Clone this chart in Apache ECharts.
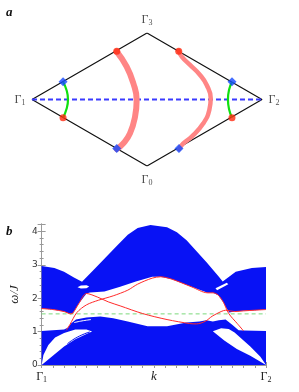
<!DOCTYPE html>
<html><head><meta charset="utf-8">
<script src="https://cdn.jsdelivr.net/npm/echarts@6/dist/echarts.min.js"></script>
<style>html,body{margin:0;padding:0;background:#fff}#c{width:299px;height:392px}</style>
</head><body><div id="c"></div>
<script>
// ---------- Panel a: Brillouin zone (k-space units, Γ1=(-1,0), Γ2=(1,0)) ----------
const zoneEdge = [[-1,0],[0,0.5774],[1,0],[0,-0.5774],[-1,0]];
const gammaVertices = [[-1,0],[0,0.5774],[1,0],[0,-0.5774]];
const gammaIndex = ['1','3','2','0'];
const pathGamma1Gamma2 = [[-1,0],[1,0]];
const pinkArcLeft = [[-0.263,0.416],[-0.177,0.285],[-0.119,0.141],[-0.09,-0.004],[-0.104,-0.15],[-0.148,-0.294],[-0.206,-0.381],[-0.263,-0.43]];
const pinkArcRight = [[0.276,0.422],[0.302,0.372],[0.374,0.3],[0.461,0.213],[0.519,0.126],[0.554,0.01],[0.542,-0.091],[0.49,-0.207],[0.389,-0.323],[0.316,-0.381],[0.278,-0.43]];
const greenArcLeft = [[-0.73,0.154],[-0.7,0.083],[-0.687,0],[-0.7,-0.083],[-0.73,-0.158]];
const greenArcRight = [[0.739,0.154],[0.713,0.083],[0.704,0],[0.713,-0.083],[0.739,-0.158]];
const redDots = [[-0.73,-0.158],[-0.263,0.42],[0.276,0.42],[0.739,-0.158]];
const blueDiamonds = [[-0.73,0.154],[-0.263,-0.425],[0.278,-0.425],[0.739,0.154]];

// ---------- Panel b: spectrum ω/J along Γ1 → Γ2 (t from 0 to 1) ----------
const upperBandTop = [[0,2.96],[0.057,2.9],[0.1,2.79],[0.144,2.62],[0.18,2.49],[0.24,2.9],[0.297,3.3],[0.34,3.6],[0.384,3.9],[0.428,4.1],[0.485,4.19],[0.559,4.12],[0.603,3.97],[0.646,3.73],[0.734,3.08],[0.79,2.64],[0.807,2.5],[0.865,2.79],[0.937,2.9],[1,2.93]];
const upperBandBottom = [[1,1.66],[0.95,1.64],[0.9,1.62],[0.86,1.6],[0.836,1.57],[0.822,1.72],[0.81,1.88],[0.787,2.09],[0.764,2.16],[0.74,2.16],[0.668,2.34],[0.58,2.57],[0.53,2.64],[0.493,2.64],[0.42,2.5],[0.35,2.34],[0.28,2.2],[0.215,2.17],[0.2,2.14],[0.165,1.83],[0.14,1.56],[0.13,1.52],[0.1,1.6],[0.05,1.66],[0,1.69]];
const lowerBandTop = [[1,1.02],[0.9,1.03],[0.878,1.04],[0.852,1.19],[0.82,1.36],[0.79,1.34],[0.763,1.3],[0.734,1.34],[0.703,1.3],[0.646,1.27],[0.559,1.16],[0.472,1.16],[0.384,1.3],[0.319,1.4],[0.262,1.45],[0.2,1.42],[0.153,1.36],[0.131,1.24],[0.118,1.12],[0.1,1.06],[0,1.02]];
const leftGapWedge = [[0,0],[0.008,0.3],[0.03,0.6],[0.06,0.82],[0.1,0.96],[0.15,1.06],[0.2,1.06],[0.225,1.0],[0.2,0.93],[0.15,0.77],[0.1,0.55],[0.05,0.28],[0,0]];
const rightGapWedge = [[0.763,1.01],[0.8,1.1],[0.834,1.08],[0.86,0.97],[0.93,0.55],[0.975,0.25],[1,0],[0.93,0.28],[0.87,0.48],[0.814,0.73],[0.763,1.01]];
const leftHole = [[0.16,2.33],[0.175,2.38],[0.2,2.39],[0.212,2.35],[0.2,2.3],[0.175,2.29]];
const rightSlit = [[0.775,2.3],[0.825,2.46],[0.832,2.42],[0.782,2.24]];
const wedgeInnerLine = [[0.115,0.64],[0.15,0.8],[0.19,0.93],[0.215,0.99]];
const lowerBandSeam = [[0.145,1.27],[0.18,1.32],[0.22,1.36]];
const edgeMode1 = [[0,1.69],[0.05,1.66],[0.1,1.6],[0.13,1.53],[0.14,1.56],[0.165,1.83],[0.2,2.14],[0.25,2.03],[0.297,1.89],[0.35,1.77],[0.45,1.54],[0.559,1.36],[0.66,1.24],[0.69,1.23],[0.73,1.31],[0.76,1.46],[0.8,1.6],[0.82,1.64],[0.86,1.6],[0.9,1.62],[0.95,1.64],[1,1.66]];
const edgeMode2 = [[0.11,1.04],[0.127,1.22],[0.157,1.57],[0.2,1.8],[0.254,1.94],[0.319,2.07],[0.384,2.24],[0.428,2.42],[0.493,2.6],[0.53,2.64],[0.58,2.57],[0.668,2.34],[0.74,2.16],[0.764,2.16],[0.787,2.09],[0.81,1.88],[0.834,1.54],[0.872,1.24],[0.9,1.02]];
const referenceLevel = [[0,1.53],[1,1.53]];
const yTicks = [0,1,2,3,4];
const xLabels = {0:['Γ','1'], 0.5:['k'], 1:['Γ','2']};

const BLUE = 'rgb(8,18,245)';
function poly(points, color, xi, yi, z) {
  return {type:'custom', xAxisIndex:xi, yAxisIndex:yi, z:z, silent:true, data:[[0,0]],
    renderItem:function(p, api){ return {type:'polygon', shape:{points:points.map(q=>api.coord(q))}, style:{fill:color}}; }};
}
function line(data, color, width, xi, yi, z, extra) {
  return Object.assign({type:'line', xAxisIndex:xi, yAxisIndex:yi, z:z, data:data, symbol:'none', silent:true,
    lineStyle:{color:color, width:width}}, extra||{});
}
const serif = 'Liberation Serif';
const gammaRich = {g:{fontFamily:serif, fontSize:12, color:'#222'}, s:{fontFamily:serif, fontSize:8, color:'#222', padding:[6,0,0,0]}};

const chart = echarts.init(document.getElementById('c'), null, {renderer:'canvas'});
chart.setOption({
  animation:false,
  backgroundColor:'#fff',
  graphic:[
    {type:'text', left:6, top:6, style:{text:'a', font:'bold italic 13px "Liberation Serif"', fill:'#111'}},
    {type:'text', left:6, top:225, style:{text:'b', font:'bold italic 13px "Liberation Serif"', fill:'#111'}}
  ],
  grid:[
    {left:32, top:33, width:230, height:133},
    {left:37, top:224, width:229, height:141}
  ],
  xAxis:[
    {gridIndex:0, type:'value', min:-1, max:1, show:false},
    {gridIndex:1, type:'value', min:0, max:1, interval:0.05, position:'bottom',
      axisLine:{lineStyle:{color:'#999'}}, splitLine:{show:false},
      axisTick:{inside:true, length:3, lineStyle:{color:'#999'}},
      axisLabel:{margin:5, interval:0, formatter:function(v){
        if (Math.abs(v)<1e-6) return '{g|'+xLabels[0][0]+'}{s|'+xLabels[0][1]+'}';
        if (Math.abs(v-0.5)<1e-6) return '{k|'+xLabels[0.5][0]+'}';
        if (Math.abs(v-1)<1e-6) return '{g|'+xLabels[1][0]+'}{s|'+xLabels[1][1]+'}';
        return '';
      }, rich:Object.assign({k:{fontFamily:serif, fontStyle:'italic', fontSize:13, color:'#222'}}, gammaRich)}},
    {gridIndex:1, type:'value', min:0, max:1, interval:0.05, position:'top',
      axisLine:{lineStyle:{color:'#999'}}, splitLine:{show:false},
      axisTick:{inside:true, length:3, lineStyle:{color:'#999'}}, axisLabel:{show:false}}
  ],
  yAxis:[
    {gridIndex:0, type:'value', min:-0.5774, max:0.5774, show:false},
    {gridIndex:1, type:'value', min:0, max:4.22, interval:1, position:'left',
      name:'ω/J', nameLocation:'middle', nameGap:19, nameRotate:90,
      nameTextStyle:{fontFamily:serif, fontStyle:'italic', fontSize:13, color:'#222'},
      axisLine:{show:true, lineStyle:{color:'#999'}}, splitLine:{show:false},
      axisTick:{inside:true, length:4, lineStyle:{color:'#999'}},
      minorTick:{show:true, splitNumber:5, length:2, lineStyle:{color:'#999'}},
      axisLabel:{margin:4, fontFamily:'DejaVu Sans', fontSize:9, color:'#333',
        formatter:function(v){ return yTicks.indexOf(v)>=0 ? String(v) : ''; }}},
    {gridIndex:1, type:'value', min:0, max:4.22, interval:1, position:'right',
      axisLine:{show:true, lineStyle:{color:'#999'}}, splitLine:{show:false},
      axisTick:{inside:true, length:4, lineStyle:{color:'#999'}},
      minorTick:{show:true, splitNumber:5, length:2, lineStyle:{color:'#999'}},
      axisLabel:{show:false}}
  ],
  series:[
    // panel a
    line(zoneEdge, '#111', 1.2, 0, 0, 2),
    line(pathGamma1Gamma2, '#3a3aff', 1.8, 0, 0, 3, {lineStyle:{color:'#3a3aff', width:1.8, type:[5,3]}}),
    line(pinkArcLeft, '#ff8585', 6, 0, 0, 4, {smooth:0.5, lineStyle:{color:'#ff8585', width:6, cap:'round'}}),
    line(pinkArcRight, '#ff8585', 4.5, 0, 0, 4, {smooth:0.5, lineStyle:{color:'#ff8585', width:4.5, cap:'round'}}),
    line(greenArcLeft, '#10e010', 2.2, 0, 0, 4, {smooth:0.5}),
    line(greenArcRight, '#10e010', 2.2, 0, 0, 4, {smooth:0.5}),
    {type:'scatter', xAxisIndex:0, yAxisIndex:0, z:6, silent:true, data:redDots, symbol:'circle', symbolSize:7, itemStyle:{color:'#ff2a10'}},
    {type:'scatter', xAxisIndex:0, yAxisIndex:0, z:6, silent:true, data:blueDiamonds, symbol:'diamond', symbolSize:9, itemStyle:{color:'#1448ff'}},
    {type:'scatter', xAxisIndex:0, yAxisIndex:0, z:7, silent:true, symbolSize:1, itemStyle:{color:'rgba(0,0,0,0)'},
      data:gammaVertices.map((v,i)=>({value:v, label:{show:true, position:['left','top','right','bottom'][i], distance:6,
        formatter:'{g|Γ}{s|'+gammaIndex[i]+'}', rich:gammaRich}}))},
    // panel b
    poly(lowerBandTop.concat([[0,0],[1,0]]), BLUE, 1, 1, 1),
    poly(upperBandTop.concat(upperBandBottom), BLUE, 1, 1, 1),
    poly(leftGapWedge, '#fff', 1, 1, 2),
    poly(rightGapWedge, '#fff', 1, 1, 2),
    poly(leftHole, '#fff', 1, 1, 2),
    poly(rightSlit, '#fff', 1, 1, 2),
    line(wedgeInnerLine, BLUE, 1, 1, 1, 3, {smooth:0.4}),
    line(lowerBandSeam, '#fff', 1, 1, 1, 3, {smooth:0.4}),
    line(referenceLevel, '#7ad87a', 1, 1, 1, 4, {lineStyle:{color:'#7ad87a', width:1, type:[4,3]}}),
    line(edgeMode1, '#ff2a2a', 1, 1, 1, 5, {smooth:0.3}),
    line(edgeMode2, '#ff2a2a', 1, 1, 1, 5, {smooth:0.3})
  ]
});
</script></body></html>
